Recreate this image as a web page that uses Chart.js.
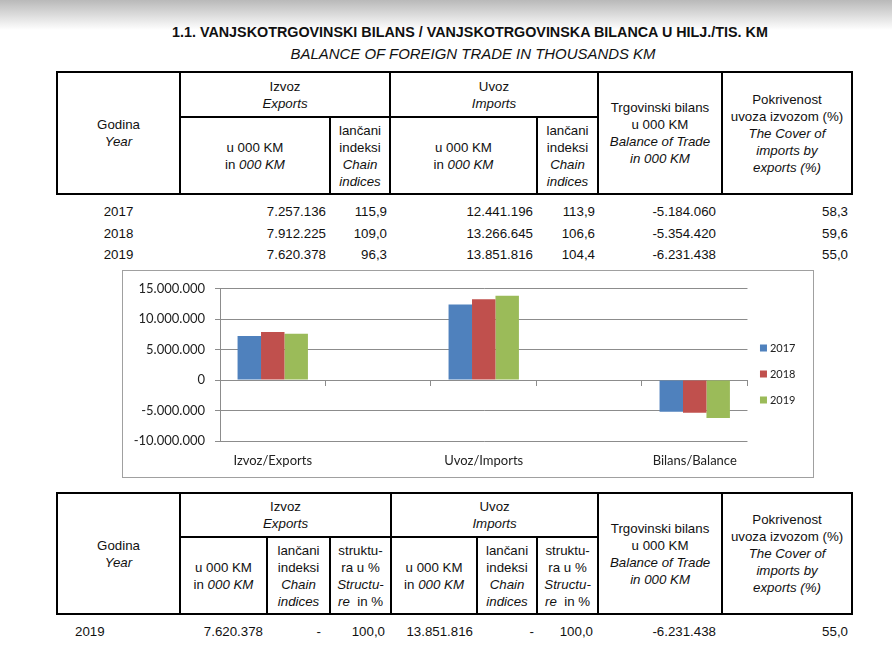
<!DOCTYPE html>
<html><head><meta charset="utf-8">
<script src="https://cdn.jsdelivr.net/npm/chart.js@4.4.1/dist/chart.umd.min.js"></script>
<style>
html,body{margin:0;padding:0;width:892px;height:647px;overflow:hidden;background:#fff;}
body{position:relative;font-family:"Liberation Sans",Arial,sans-serif;color:#111;}
#topfade{position:absolute;left:0;top:0;width:892px;height:30px;background:linear-gradient(#b9b9b9,#ffffff);}
.title{position:absolute;white-space:nowrap;display:inline-block;transform-origin:center center;line-height:16px;}
#t1{top:24px;font-weight:bold;font-size:14px;}
#t2{top:46px;font-style:italic;font-size:14px;}
table{position:absolute;border-collapse:collapse;table-layout:fixed;font-size:13.3px;line-height:17px;}
table.hd th{border:2px solid #000;font-weight:normal;padding:0;text-align:center;vertical-align:middle;}
table.dt td{padding:0;text-align:right;white-space:nowrap;vertical-align:middle;}
#chartbox{position:absolute;left:122px;top:270px;width:692px;height:208px;box-sizing:border-box;border:1px solid #a0a0a0;}
#chartbox canvas{display:block;}
</style></head>
<body>
<div id="topfade"></div>
<span class="title" id="t1" data-l="172" data-r="768">1.1. VANJSKOTRGOVINSKI BILANS / VANJSKOTRGOVINSKA BILANCA U HILJ./TIS. KM</span>
<span class="title" id="t2" data-l="290" data-r="655">BALANCE OF FOREIGN TRADE IN THOUSANDS KM</span>

<table class="hd" style="left:56px;top:71px;width:797px;">
<colgroup><col style="width:123px"><col style="width:150px"><col style="width:60px"><col style="width:147px"><col style="width:61px"><col style="width:124px"><col style="width:130px"></colgroup>
<tr style="height:45px"><th rowspan="2">Godina<br><i>Year</i></th><th colspan="2">Izvoz<br><i>Exports</i></th><th colspan="2">Uvoz<br><i>Imports</i></th><th rowspan="2">Trgovinski bilans<br>u 000 KM<br><i>Balance of Trade<br>in 000 KM</i></th><th rowspan="2">Pokrivenost<br>uvoza izvozom (%)<br><i>The Cover of<br>imports by<br>exports (%)</i></th></tr>
<tr style="height:77px"><th>u 000 KM<br>in <i>000 KM</i></th><th>lančani<br>indeksi<br><i>Chain<br>indices</i></th><th>u 000 KM<br>in <i>000 KM</i></th><th>lančani<br>indeksi<br><i>Chain<br>indices</i></th></tr>
</table>
<table class="dt" id="d1" style="left:57px;top:201px;width:795px;">
<colgroup><col style="width:123px"><col style="width:150px"><col style="width:60px"><col style="width:147px"><col style="width:61px"><col style="width:124px"><col style="width:130px"></colgroup>
</table>

<div id="chartbox"><canvas id="c" width="690" height="206"></canvas></div>

<table class="hd" style="left:56px;top:492px;width:797px;">
<colgroup><col style="width:123px"><col style="width:87px"><col style="width:63px"><col style="width:61px"><col style="width:86px"><col style="width:60px"><col style="width:61px"><col style="width:124px"><col style="width:130px"></colgroup>
<tr style="height:44px"><th rowspan="2">Godina<br><i>Year</i></th><th colspan="3">Izvoz<br><i>Exports</i></th><th colspan="3">Uvoz<br><i>Imports</i></th><th rowspan="2">Trgovinski bilans<br>u 000 KM<br><i>Balance of Trade<br>in 000 KM</i></th><th rowspan="2">Pokrivenost<br>uvoza izvozom (%)<br><i>The Cover of<br>imports by<br>exports (%)</i></th></tr>
<tr style="height:77px"><th>u 000 KM<br>in <i>000 KM</i></th><th>lančani<br>indeksi<br><i>Chain<br>indices</i></th><th>struktu-<br>ra u %<br><i>Structu-<br>re</i>&nbsp; in %</th><th>u 000 KM<br>in <i>000 KM</i></th><th>lančani<br>indeksi<br><i>Chain<br>indices</i></th><th>struktu-<br>ra u %<br><i>Structu-<br>re</i>&nbsp; in %</th></tr>
</table>
<table class="dt" id="d2" style="left:57px;top:620px;width:795px;">
<colgroup><col style="width:123px"><col style="width:87px"><col style="width:63px"><col style="width:61px"><col style="width:86px"><col style="width:60px"><col style="width:61px"><col style="width:124px"><col style="width:130px"></colgroup>
</table>

<script>
// ---- data ----
const categories = ['Izvoz/Exports', '', 'Uvoz/Imports', '', 'Bilans/Balance'];
const years = ['2017', '2018', '2019'];
const exportsKM = [7257136, 7912225, 7620378];
const exportIdx = [115.9, 109.0, 96.3];
const importsKM = [12441196, 13266645, 13851816];
const importIdx = [113.9, 106.6, 104.4];
const balanceKM = [-5184060, -5354420, -6231438];
const coverPct = [58.3, 59.6, 55.0];
const structureExp = [100.0];
const structureImp = [100.0];
const yTicks = [-10000000, -5000000, 0, 5000000, 10000000, 15000000];

function fmtInt(n){
  const s = Math.abs(Math.round(n)).toString().replace(/\B(?=(\d{3})+(?!\d))/g, '.');
  return (n < 0 ? '-' : '') + s;
}
function fmtDec(n){ return n.toFixed(1).replace('.', ','); }

// ---- tables ----
const d1 = document.getElementById('d1');
years.forEach((y, i) => {
  const tr = document.createElement('tr');
  tr.style.height = '21.5px';
  const cells = [
    [y, 'center', 0], [fmtInt(exportsKM[i]), 'right', 4], [fmtDec(exportIdx[i]), 'right', 3],
    [fmtInt(importsKM[i]), 'right', 4], [fmtDec(importIdx[i]), 'right', 3],
    [fmtInt(balanceKM[i]), 'right', 6], [fmtDec(coverPct[i]), 'right', 4]
  ];
  cells.forEach(c => { const td = document.createElement('td'); td.textContent = c[0]; td.style.textAlign = c[1]; td.style.paddingRight = c[2] + 'px'; tr.appendChild(td); });
  d1.appendChild(tr);
});
const d2 = document.getElementById('d2');
(function(){
  const i = 2;
  const tr = document.createElement('tr');
  tr.style.height = '22px';
  const cells = [
    [years[i], 'left', 0], [fmtInt(exportsKM[i]), 'right', 4], ['-', 'right', 9], [fmtDec(structureExp[0]), 'right', 6],
    [fmtInt(importsKM[i]), 'right', 4], ['-', 'right', 3], [fmtDec(structureImp[0]), 'right', 5],
    [fmtInt(balanceKM[i]), 'right', 6], [fmtDec(coverPct[i]), 'right', 4]
  ];
  cells.forEach((c, k) => { const td = document.createElement('td'); td.textContent = c[0]; td.style.textAlign = c[1]; td.style.paddingRight = c[2] + 'px'; if (k === 0) td.style.paddingLeft = '18px'; tr.appendChild(td); });
  d2.appendChild(tr);
})();

// ---- titles fit ----
document.querySelectorAll('.title').forEach(el => {
  const l = +el.dataset.l, r = +el.dataset.r;
  const w = el.offsetWidth;
  el.style.left = ((l + r) / 2 - w / 2) + 'px';
  el.style.transform = 'scaleX(' + ((r - l) / w) + ')';
});

// ---- chart ----
const barColors = ['#4f81bd', '#c0504d', '#9bbb59'];
const seriesData = years.map((y, i) => [exportsKM[i], null, importsKM[i], null, balanceKM[i]]);
const gridCol = '#8c8c8c';
const legendShift = {
  id: 'legendShift',
  afterLayout(chart) { if (chart.legend) { chart.legend.top -= 7.5; chart.legend.bottom -= 7.5; } }
};
new Chart(document.getElementById('c'), {
  type: 'bar',
  plugins: [legendShift],
  data: {
    labels: categories,
    datasets: years.map((y, i) => ({
      label: y, data: seriesData[i], backgroundColor: barColors[i], borderWidth: 0,
      categoryPercentage: 0.667, barPercentage: 1.0
    }))
  },
  options: {
    responsive: false, animation: false, events: [],
    layout: { padding: { top: 15, bottom: 0, left: 0, right: 7.5 } },
    plugins: {
      tooltip: { enabled: false },
      legend: {
        position: 'right', align: 'center',
        labels: { usePointStyle: true, pointStyle: 'rect', boxWidth: 2, boxHeight: 7, padding: 15, color: '#222', font: { family: 'Lato', size: 11 } }
      }
    },
    scales: {
      x: {
        type: 'category',
        afterFit(s) { s.height = 36; },
        grid: { display: false, drawTicks: false },
        border: { display: false },
        ticks: { padding: 12, color: '#222', autoSkip: false, maxRotation: 0, font: { family: 'Lato', size: 13 } }
      },
      x2: {
        type: 'category', position: { y: 0 }, offset: true,
        grid: { offset: true, drawOnChartArea: false, drawTicks: true, tickLength: 5, color: gridCol },
        border: { display: true, color: gridCol },
        ticks: { display: false }
      },
      y: {
        min: yTicks[0], max: yTicks[yTicks.length - 1],
        afterFit(s) { s.width = 97; },
        afterBuildTicks(s) { s.ticks = yTicks.map(v => ({ value: v })); },
        ticks: { padding: 10, color: '#222', font: { family: 'Lato', size: 13 }, callback: v => fmtInt(v) },
        grid: { color: gridCol, lineWidth: 1, tickLength: 5, drawTicks: true },
        border: { display: true, color: gridCol }
      }
    }
  }
});
</script>
</body></html>
